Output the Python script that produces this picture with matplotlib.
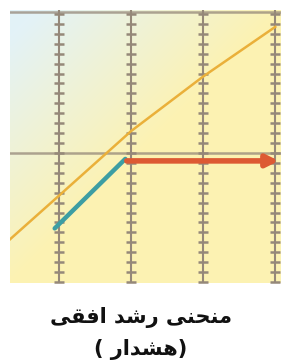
import numpy as np
import matplotlib.pyplot as plt
from matplotlib.patches import FancyArrowPatch

# values (x: grid columns, y: tick steps)
curve_x = [0.32, 1.0, 2.0, 3.0, 4.0]
curve_y = [-8.7, -4.3, 2.2, 7.7, 12.7]
growth_x = [0.94, 1.92]
growth_y = [-7.6, -0.6]
flat_x = [1.94, 4.05]
flat_y = [-0.8, -0.8]
grid_x = [1, 2, 3, 4]
grid_y = [0, 14.2]
ticks_y = np.arange(-13, 15, 1.0)

# text already in shaped, visual order
title1 = "\ufef0\ufed8\ufed3\ufe8d \ufeaa\ufeb7\ufead \ufef0\ufee8\ufea4\ufee8\ufee3"
title2 = "( \ufead\ufe8d\ufeaa\ufeb8\ufeeb)"

fig = plt.figure(figsize=(2.81, 3.63), dpi=100)
fig.patch.set_facecolor('white')
ax = fig.add_axes([10 / 281, 80 / 363, 271 / 281, 273 / 363])
xlim = (0.32, 4.08)
ylim = (-13.1, 14.4)
ax.set_xlim(*xlim)
ax.set_ylim(*ylim)

# pale paper background: bluish white top-left, yellow elsewhere
gx, gy = np.meshgrid(np.linspace(0, 1, 60), np.linspace(1, 0, 60))
t = np.clip((gx + (1 - gy)) * 1.1 - 0.1, 0, 1)
c0 = np.array([0.89, 0.95, 0.97])
c1 = np.array([0.99, 0.95, 0.70])
bg = c0 * (1 - t[..., None]) + c1 * t[..., None]
ax.imshow(bg, extent=(*xlim, *ylim), aspect='auto', zorder=0, interpolation='bicubic')

grid_color = '#958879'
for gx_ in grid_x:
    ax.axvline(gx_, color=grid_color, lw=1.5, zorder=1)
    ax.plot([gx_] * len(ticks_y), ticks_y, linestyle='None', marker='_',
            markersize=6.5, markeredgewidth=1.8, color=grid_color, zorder=1)
for gy_ in grid_y:
    ax.axhline(gy_, color=grid_color, lw=1.8, alpha=0.75, zorder=1)

ax.plot(curve_x, curve_y, color='#eab03a', lw=1.8, zorder=2)
ax.plot(growth_x, growth_y, color='#3d9ea3', lw=3.2, solid_capstyle='round', zorder=3)
arrow = FancyArrowPatch((flat_x[0], flat_y[0]), (flat_x[1], flat_y[1]),
                        arrowstyle='-|>,head_length=7,head_width=3.5',
                        color='#dd5a33', lw=4, zorder=3, shrinkA=0, shrinkB=0)
ax.add_patch(arrow)

for s in ax.spines.values():
    s.set_visible(False)
ax.set_xticks([])
ax.set_yticks([])

fig.text(0.5, 1 - 318 / 363, title1, ha='center', va='center', fontsize=15,
         fontweight='heavy', family='DejaVu Sans', color='#111111')
fig.text(0.5, 1 - 349 / 363, title2, ha='center', va='center', fontsize=15,
         fontweight='heavy', family='DejaVu Sans', color='#111111')

fig.savefig('out.png', dpi=100)
